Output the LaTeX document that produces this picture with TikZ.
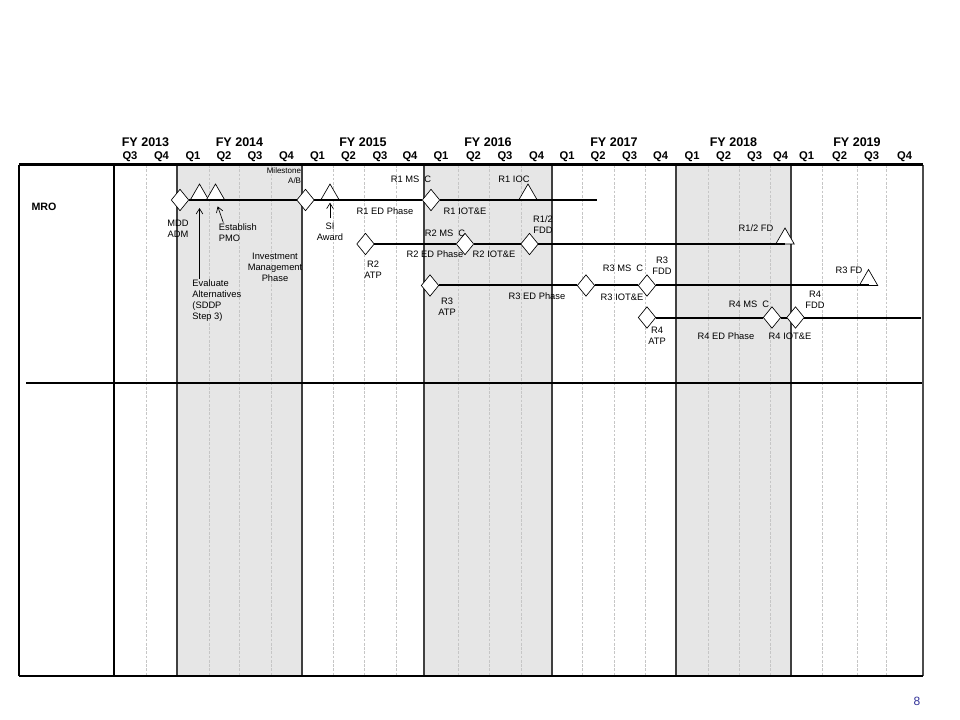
\documentclass[tikz,border=0pt]{standalone}
\usepackage{fontspec}
\setmainfont{Liberation Sans}
\usepackage{xcolor}
\definecolor{fyshade}{HTML}{E6E6E6}
\definecolor{pagenum}{HTML}{333399}
\usepackage{tikz}
\usetikzlibrary{positioning,arrows.meta,shapes.geometric,calc}

\begin{document}
\begin{tikzpicture}[x=0.75pt, y=-0.75pt,
                   fylbl/.style={font=\bfseries\fontsize{9.4}{11}\selectfont, inner sep=0pt},
                   qlbl/.style={font=\bfseries\fontsize{8.4}{10}\selectfont, inner sep=0pt},
                   ms/.style={draw, fill=white, diamond, minimum width=13pt, minimum height=16pt,
                              inner sep=0pt, outer sep=0pt, line width=0.5pt},
                   evt/.style={draw, fill=white, regular polygon, regular polygon sides=3,
                               minimum size=16pt, inner sep=0pt, outer sep=0pt, line width=0.5pt},
                   lbl/.style={font=\fontsize{7}{8.25}\selectfont, align=center, inner sep=0.5pt},
                   phase/.style={line width=1.5pt},
                   ptr/.style={-{Straight Barb[length=4pt,width=5pt]}, line width=0.5pt},
                   qline/.style={gray!45, dash pattern=on 2pt off 1.2pt, line width=0.5pt},
                   fyline/.style={gray!50!black, line width=0.9pt},
                   frame/.style={line width=2.2pt}]
    \useasboundingbox (0,0) rectangle (960,720);
    \fill[white] (0,0) rectangle (960,720);
    \foreach \a/\b in {177/302, 424/552, 676/791}
        \fill[fyshade] (\a,165) rectangle (\b,676);
    \foreach \x in {146,209,239,271,333,364,396,458,489,521,582,614,645,708,739,770,822,857,886}
        \draw[qline] (\x,165) -- (\x,676);
    \foreach \x in {177,302,424,552,676,791}
        \draw[fyline] (\x,165) -- (\x,676);
    \draw[line width=1.2pt] (114,165) -- (114,676);
    \draw[gray!60!black, line width=1.5pt] (923,165) -- (923,676);
    \draw[line width=1.6pt] (19,165) -- (19,676);
    \draw[frame] (19,164.5) -- (923,164.5);
    \draw[frame] (19,676) -- (923,676);
    \draw[frame] (26,383) -- (922,383);

    \foreach \x/\fy in {145.5/2013, 239.5/2014, 363/2015, 488/2016, 614/2017, 733.5/2018, 857/2019}
        \node[fylbl] (fy\fy) at (\x,142) {FY \fy};
    \foreach \x/\q [count=\i] in {130/Q3, 161.5/Q4, 193/Q1, 224/Q2, 255/Q3, 286.5/Q4, 317.5/Q1, 348.5/Q2,
                                  380/Q3, 410/Q4, 441/Q1, 473.5/Q2, 505/Q3, 536.5/Q4, 567/Q1, 598/Q2,
                                  629.5/Q3, 660.5/Q4, 692/Q1, 723.5/Q2, 754.5/Q3, 780.5/Q4, 806.5/Q1,
                                  839.5/Q2, 871.5/Q3, 904.5/Q4}
        \node[qlbl] (q\i) at (\x,157) {\q};
    \node[font=\bfseries\fontsize{8}{9.6}\selectfont] (mro) at (44,207) {MRO};

    \node[ms] (mdd) at (180,200) {};
    \node[evt, anchor=south] (evalalt) at (199.5,200) {};
    \node[evt, anchor=south] (pmo) at (215.5,200) {};
    \node[ms] (msab) at (305.5,200) {};
    \node[evt, anchor=south] (siaward) at (330,200) {};
    \node[ms] (r1msc) at (431,200) {};
    \node[evt, anchor=south] (r1ioc) at (528,200) {};
    \coordinate (r1end) at (597,200);

    \node[ms] (r2atp) at (365.5,244) {};
    \node[ms] (r2msc) at (465,244) {};
    \node[ms] (r12fdd) at (529.5,244) {};
    \node[evt, anchor=south] (r12fd) at (785,244) {};

    \node[ms] (r3atp) at (430,285.5) {};
    \node[ms] (r3ms) at (586,285.5) {};
    \node[ms] (r3fdd) at (647,285.5) {};
    \node[evt, anchor=south] (r3fd) at (868.5,285.5) {};

    \node[ms] (r4atp) at (647,317.5) {};
    \node[ms] (r4msc) at (772,317.5) {};
    \node[ms] (r4fdd) at (795.5,317.5) {};
    \coordinate (r4end) at (921,317.5);

    \draw[phase] (mdd) -- (msab);
    \draw[phase] (msab) -- (r1msc);
    \draw[phase] (r1msc) -- (r1end);
    \draw[phase] (r2atp) -- (r2msc);
    \draw[phase] (r2msc) -- (r12fdd);
    \draw[phase] (r12fdd) -- (r12fd.south);
    \draw[phase] (r3atp) -- (r3ms);
    \draw[phase] (r3ms) -- (r3fdd);
    \draw[phase] (r3fdd) -- (r3fd.south);
    \draw[phase] (r4atp) -- (r4msc);
    \draw[phase] (r4msc) -- (r4fdd);
    \draw[phase] (r4fdd) -- (r4end);

    \node[lbl] (mddlbl) at (178,228.5) {MDD\\ADM};
    \node[lbl, align=left, anchor=west] (evallbl) at (191.5,300.5) {Evaluate\\Alternatives\\(SDDP\\Step 3)};
    \node[lbl, align=left, anchor=west] (pmolbl) at (218,232.5) {Establish\\PMO};
    \node[lbl, font=\fontsize{6}{7.5}\selectfont, align=right, anchor=east] (msablbl) at (302,175.5) {Milestone\\A/B};
    \node[lbl] (invlbl) at (275,267) {Investment\\Management\\Phase};
    \node[lbl] (silbl) at (330,232) {SI\\Award};
    \draw[ptr, shorten >=6pt] (evallbl.north -| evalalt.south) -- (evalalt.south);
    \draw[ptr, shorten >=5pt] ([xshift=4pt]pmolbl.north west) -- (pmo.south);
    \draw[ptr, shorten >=2pt] ([yshift=3pt]silbl.north) -- (siaward.south);

    \node[lbl] (r1msclbl) at (411,179) {R1 MS\ \ C};
    \node[lbl] (r1edlbl) at (385,211) {R1 ED Phase};
    \node[lbl] (r1iotlbl) at (465,211) {R1 IOT\&E};
    \node[lbl] (r1ioclbl) at (514,179) {R1 IOC};

    \node[lbl] (r2atplbl) at (373,269.5) {R2\\ATP};
    \node[lbl] (r2msclbl) at (445,233) {R2 MS\ \ C};
    \node[lbl] (r2edlbl) at (435,254) {R2 ED Phase};
    \node[lbl] (r2iotlbl) at (494,254) {R2 IOT\&E};
    \node[lbl] (r12fddlbl) at (543,224.5) {R1/2\\FDD};
    \node[lbl] (r12fdlbl) at (756,228) {R1/2 FD};

    \node[lbl] (r3atplbl) at (447,307) {R3\\ATP};
    \node[lbl] (r3edlbl) at (537,296) {R3 ED Phase};
    \node[lbl] (r3msclbl) at (623,268) {R3 MS\ \ C};
    \node[lbl] (r3iotlbl) at (622,297) {R3 IOT\&E};
    \node[lbl] (r3fddlbl) at (662,266) {R3\\FDD};
    \node[lbl] (r3fdlbl) at (849,270) {R3 FD};

    \node[lbl] (r4atplbl) at (657,336) {R4\\ATP};
    \node[lbl] (r4msclbl) at (749,304) {R4 MS\ \ C};
    \node[lbl] (r4edlbl) at (726,336) {R4 ED Phase};
    \node[lbl] (r4iotlbl) at (790,336) {R4 IOT\&E};
    \node[lbl] (r4fddlbl) at (815,299.5) {R4\\FDD};

    \node[font=\fontsize{9}{10}\selectfont, text=pagenum] (pgnum) at (917,701) {8};
\end{tikzpicture}
\end{document}
